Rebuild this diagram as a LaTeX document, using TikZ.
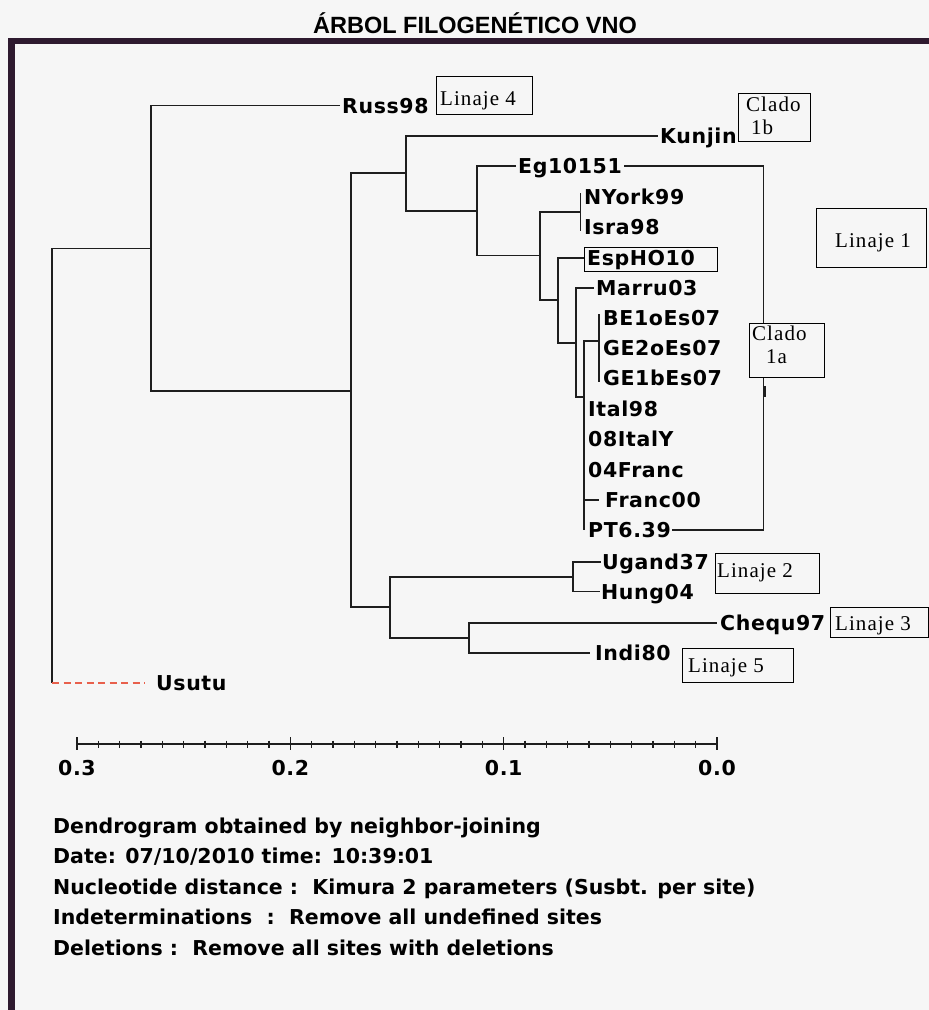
\documentclass[tikz,border=0pt]{standalone}
\usepackage{fontspec}
\setmainfont{Liberation Sans}
\newfontfamily\lblfam{DejaVu Sans}[LetterSpace=3]
\newfontfamily\btmfam{DejaVu Sans}
\newfontfamily\serfam{Liberation Serif}[LetterSpace=5]
\usetikzlibrary{calc}
\definecolor{bgc}{HTML}{F6F6F6}
\definecolor{brd}{HTML}{2E1A2F}
\definecolor{ln}{HTML}{1E1E1E}
\definecolor{usu}{HTML}{E8604C}
\newcommand\leaffnt{\lblfam\bfseries\fontsize{20.5pt}{21pt}\selectfont}
\newcommand\btmfnt{\btmfam\bfseries\fontsize{20.5pt}{22pt}\selectfont}
\newcommand\boxfnt{\serfam\fontsize{21pt}{22pt}\selectfont}
\newcommand\ttlfnt{\bfseries\fontsize{23.5pt}{25pt}\selectfont}
\begin{document}
\begin{tikzpicture}[x=1pt,y=-1pt,
  br/.style={draw=ln, line width=1.4pt},
  leaf/.style={anchor=base west, inner sep=0pt, font=\leaffnt, text=black},
  bx/.style={draw=black, line width=0.9pt, fill=bgc, anchor=north west, inner sep=0pt},
  btx/.style={anchor=base west, inner sep=0pt, font=\boxfnt, text=black},
  btm/.style={anchor=base west, inner sep=0pt, font=\btmfnt, text=black}]
% background and frame
\fill[bgc] (0,0) rectangle (929,1010);
\useasboundingbox (0,0) rectangle (929,1010);
\draw[brd, line width=6.5pt] (11.5,1010) -- (11.5,41) -- (929,41);
\node[anchor=base, inner sep=0pt, font=\ttlfnt] (title) at (475,33) {ÁRBOL FILOGENÉTICO VNO};

% internal nodes
\coordinate (root) at (52,465.5);
\coordinate (rootb) at (52,683);
\coordinate (n151) at (151,248.3);
\coordinate (n351) at (351,391);
\coordinate (n406) at (406,173);
\coordinate (n477) at (477,211);
\coordinate (n540) at (540,255.5);
\coordinate (n580) at (580.5,212);
\coordinate (n558) at (558,300);
\coordinate (n576) at (576,343);
\coordinate (n584) at (584,397);
\coordinate (n599) at (599,341);
\coordinate (n390) at (390,607);
\coordinate (n573) at (573,577);
\coordinate (n469) at (469,638);

% leaf ends
\coordinate (russ) at (340,105.5);
\coordinate (kun) at (658,136);
\coordinate (eg) at (516,166);
\coordinate (ny) at (580.5,197);
\coordinate (isra) at (580.5,227);
\coordinate (esp) at (584,258);
\coordinate (marru) at (594,288);
\coordinate (be) at (599,318);
\coordinate (ge2) at (599,348);
\coordinate (ge1) at (599,378);
\coordinate (ital) at (584,408.5);
\coordinate (it08) at (584,439);
\coordinate (fr04) at (584,469.5);
\coordinate (fr00) at (599,500);
\coordinate (pt) at (584,530);
\coordinate (ug) at (601,562);
\coordinate (hung) at (600,591.5);
\coordinate (cheq) at (717,623);
\coordinate (indi) at (590,653);
\coordinate (usutu) at (145,683);

% branches
\draw[br] (root) |- (n151);
\draw[br] (root) -- (rootb);
\draw[usu, line width=1.2pt, dash pattern=on 7pt off 4.5pt] (rootb) -- (usutu);
\draw[br] (n151) |- (russ);
\draw[br] (n151) |- (n351);
\draw[br] (n351) |- (n406);
\draw[br] (n351) |- (n390);
\draw[br] (n406) |- (kun);
\draw[br] (n406) |- (n477);
\draw[br] (n477) |- (eg);
\draw[br] (n477) |- (n540);
\draw[br] (n540) |- (n580);
\draw[br] (n540) |- (n558);
\draw[br] ($(ny)+(0,-4)$) -- ($(isra)+(0,4)$);
\draw[br] (n558) |- (esp);
\draw[br] (n558) |- (n576);
\draw[br] (n576) |- (marru);
\draw[br] (n576) |- (n584);
\draw[br] (n584) |- (n599);
\draw[br] (n584) |- (pt);
\draw[br] (n584) |- (fr00);
\draw[br] ($(be)+(0,-4)$) -- ($(ge1)+(0,4)$);
\draw[br] (n390) |- (n573);
\draw[br] (n390) |- (n469);
\draw[br] (n573) |- (ug);
\draw[br] (n573) |- (hung);
\draw[br] (n469) |- (cheq);
\draw[br] (n469) |- (indi);

% clade 1 bracket
\coordinate (c1) at (624,166);
\coordinate (c2) at (763.7,166);
\coordinate (c3) at (763.7,530);
\coordinate (c4) at (672,530);
\draw[br] (c1) -- (c2) -- (c3) -- (c4);
\coordinate (tk1) at (765,386);
\coordinate (tk2) at (765,397);
\draw[ln, line width=2.6pt] (tk1) -- (tk2);

% boxes
\node[bx, minimum width=96pt, minimum height=38pt] (bL4) at (436,76) {};
\node[bx, minimum width=72pt, minimum height=48pt] (bC1b) at (738,93) {};
\node[bx, minimum width=110pt, minimum height=59pt] (bL1) at (816,208) {};
\node[draw=black, line width=0.9pt, anchor=north west, inner sep=0pt, minimum width=133pt, minimum height=24pt] (bEsp) at (584,247) {};
\node[bx, minimum width=75pt, minimum height=54pt] (bC1a) at (749,323) {};
\node[bx, minimum width=104pt, minimum height=40pt] (bL2) at (715,553) {};
\node[bx, minimum width=98pt, minimum height=30pt] (bL3) at (829.5,607) {};
\node[bx, minimum width=111pt, minimum height=34pt] (bL5) at (682,648) {};

\node[btx] (tL4) at (440,105) {Linaje 4};
\node[btx] (tC1b) at (746,111) {Clado};
\node[btx] (tC1b2) at (751,134) {1b};
\node[btx] (tL1) at (835,247) {Linaje 1};
\node[btx] (tC1a) at (752,340) {Clado};
\node[btx] (tC1a2) at (766,363) {1a};
\node[btx] (tL2) at (717,577) {Linaje 2};
\node[btx] (tL3) at (835,630) {Linaje 3};
\node[btx] (tL5) at (688,672) {Linaje 5};

% leaf labels
\node[leaf] (lRuss) at (342,113) {Russ98};
\node[leaf] (lKun) at (660,143.5) {Kunjin};
\node[leaf] (lEg) at (518,173.5) {Eg10151};
\node[leaf] (lNy) at (584,204.5) {NYork99};
\node[leaf] (lIsra) at (584,234.5) {Isra98};
\node[leaf] (lEsp) at (587,265.5) {EspHO10};
\node[leaf] (lMarru) at (596,295.5) {Marru03};
\node[leaf] (lBe) at (603,325.5) {BE1oEs07};
\node[leaf] (lGe2) at (603,355.5) {GE2oEs07};
\node[leaf] (lGe1) at (603,385.5) {GE1bEs07};
\node[leaf] (lItal) at (588,416) {Ital98};
\node[leaf] (lIt08) at (588,446.5) {08ItalY};
\node[leaf] (lFr04) at (588,477) {04Franc};
\node[leaf] (lFr00) at (605,507.5) {Franc00};
\node[leaf] (lPt) at (588,537.5) {PT6.39};
\node[leaf] (lUg) at (602,569.5) {Ugand37};
\node[leaf] (lHung) at (601,599) {Hung04};
\node[leaf] (lCheq) at (720,630.5) {Chequ97};
\node[leaf] (lIndi) at (595,660.5) {Indi80};
\node[leaf] (lUsutu) at (156,690.5) {Usutu};

% scale bar
\coordinate (sc0) at (77,744);
\coordinate (sc1) at (717,744);
\draw[br] (sc0) -- (sc1);
\foreach \i in {0,...,30}{
  \pgfmathsetmacro\xx{77+\i*21.3333}
  \draw[br] (\xx,740.5) -- (\xx,747.5);
}
\foreach \i/\t in {0/0.3,10/0.2,20/0.1,30/0.0}{
  \pgfmathsetmacro\xx{77+\i*21.3333}
  \draw[br] (\xx,737) -- (\xx,750);
  \node[leaf, anchor=base] (sl\i) at (\xx,775.5) {\t};
}

% footer text
\node[btm] (f1) at (53,833) {Dendrogram obtained by neighbor-joining};
\node[btm] (f2) at (53,863.5) {Date: 07/10/2010 time: 10:39:01};
\node[btm] (f3) at (53,894) {Nucleotide distance :\ \ Kimura 2 parameters (Susbt. per site)};
\node[btm] (f4) at (53,924.5) {Indeterminations\ \ :\ \ Remove all undefined sites};
\node[btm] (f5) at (53,955) {Deletions :\ \ Remove all sites with deletions};
\end{tikzpicture}
\end{document}
